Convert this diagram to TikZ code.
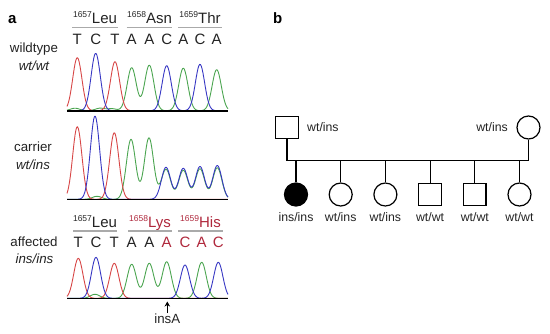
\documentclass[tikz,border=0pt]{standalone}
\usepackage{fontspec}
\setmainfont{Liberation Sans}
\usetikzlibrary{arrows.meta,positioning}
\definecolor{chred}{RGB}{215,70,70}
\definecolor{chblue}{RGB}{55,55,195}
\definecolor{chgreen}{RGB}{75,165,80}
\definecolor{mutred}{RGB}{175,40,60}
\definecolor{rulegray}{RGB}{170,170,170}
\definecolor{ink}{RGB}{35,35,35}
\newcommand{\codon}[2]{\raisebox{5.5pt}{\fontsize{8.5}{8.5}\selectfont #1}#2}
\tikzset{
  nuc/.style={
    anchor = base,
    inner sep = 0,
    font = \fontsize{15}{15}\selectfont,
    text = ink
  },
  codon/.style={
    anchor = base,
    inner sep = 0,
    font = \fontsize{15}{15}\selectfont,
    text = ink
  },
  side/.style={
    anchor = base,
    inner sep = 0,
    font = \fontsize{13.3}{15}\selectfont,
    text = ink
  },
  panel/.style={
    anchor = base west,
    inner sep = 0,
    font = \bfseries\fontsize{15}{15}\selectfont
  },
}
\tikzset{
  trace/.style={
    line width = 0.9pt,
    line join = round
  },
  zeroline/.style={
    line width = 1.6pt
  },
  codonrule/.style={
    rulegray,
    line width = 1.5pt
  },
  declare function={pk(\t,\c,\h)=\h*exp(max(0-((\t-\c)/6.5)^2,-12));}
}
\tikzset{
  male/.style={
    draw,
    shape = rectangle,
    minimum size = 22.5pt,
    inner sep = 0,
    line width = 1.2pt
  },
  female/.style={
    draw,
    shape = circle,
    minimum size = 23pt,
    inner sep = 0,
    line width = 1.2pt
  },
  afemale/.style={
    female,
    fill = black
  },
  pline/.style={
    line width = 1.2pt
  },
  plabel/.style={
    anchor = base,
    inner sep = 0,
    font = \fontsize{12.3}{14}\selectfont,
    text = ink
  },
}

\begin{document}
\begin{tikzpicture}[x=1pt,y=-1pt]
\useasboundingbox (0,0) rectangle (550,333);
\node[panel] (la) at (8,23) {a};
\node[panel] (lb) at (273,23) {b};

% wildtype
\node[codon] (w1) at (95,23) {\codon{1657}{Leu}};
\node[codon] (w2) at (149.5,23) {\codon{1658}{Asn}};
\node[codon] (w3) at (200,23) {\codon{1659}{Thr}};
\draw[codonrule] (72.3,27.3) -- (117.7,27.3);
\draw[codonrule] (126.7,27.3) -- (171.7,27.3);
\draw[codonrule] (178.3,27.3) -- (221.7,27.3);
\foreach \b/\x [count=\i] in {T/77.3,C/95.7,T/115,A/131.7,A/149.3,C/166.7,A/183.3,C/200,A/216.7}{
  \node[nuc] (wb\i) at (\x,44) {\b}; }
\node[side] (wt1) at (34,52) {wildtype};
\node[side] (wt2) at (34,70) {\itshape wt/wt};
\draw[trace,chgreen] plot[domain=67:228,samples=200] (\x,{110.7-pk(\x,131.7,43)-pk(\x,149.3,45.5)-pk(\x,183.3,42.5)-pk(\x,216.7,41)-pk(\x,75,2.5)-pk(\x,100,2.5)-pk(\x,112,2)});
\draw[trace,chred] plot[domain=67:228,samples=200] (\x,{110.7-pk(\x,77.3,53)-pk(\x,115,49)});
\draw[trace,chblue] plot[domain=67:228,samples=200] (\x,{110.7-pk(\x,95.7,57.4)-pk(\x,166.7,45)-pk(\x,200,46.4)});
\draw[zeroline] (67,110.7) -- (228,110.7);

% carrier
\node[side] (ca1) at (33,151.7) {carrier};
\node[side] (ca2) at (33,169) {\itshape wt/ins};
\draw[trace,chgreen] plot[domain=67:228,samples=200] (\x,{199.3-pk(\x,131,60)-pk(\x,149,61.5)-pk(\x,166,30)-pk(\x,183.3,29)-pk(\x,200,30.5)-pk(\x,217.3,31.5)-pk(\x,97,3)});
\draw[trace,chred] plot[domain=67:228,samples=200] (\x,{199.3-pk(\x,77.3,72.6)-pk(\x,114.3,66.6)});
\draw[trace,chblue] plot[domain=67:228,samples=200] (\x,{199.3-pk(\x,95,83.3)-pk(\x,166,32)-pk(\x,183.3,31)-pk(\x,200,32.8)-pk(\x,217.3,33.8)});
\draw[zeroline] (67,199.3) -- (228,199.3);

% affected
\node[codon] (m1) at (95,227) {\codon{1657}{Leu}};
\node[codon,text=mutred] (m2) at (150,227) {\codon{1658}{Lys}};
\node[codon,text=mutred] (m3) at (200.5,227) {\codon{1659}{His}};
\draw[codonrule] (73,231) -- (117,231);
\draw[codonrule] (128,231) -- (172,231);
\draw[codonrule] (178,231) -- (223,231);
\foreach \b/\x/\c [count=\i] in {T/78.3/ink,C/96/ink,T/114.3/ink,A/131.7/ink,A/149.3/ink,A/166.7/mutred,C/185/mutred,A/201.7/mutred,C/218.3/mutred}{
  \node[nuc,text=\c] (mb\i) at (\x,247.7) {\b}; }
\node[side] (af1) at (34,246.7) {affected};
\node[side] (af2) at (34.5,263) {\itshape ins/ins};
\draw[trace,chgreen] plot[domain=67:228,samples=200] (\x,{298.3-pk(\x,131.7,34)-pk(\x,149.3,35)-pk(\x,166.7,36.5)-pk(\x,201.7,36)-pk(\x,95,4)});
\draw[trace,chred] plot[domain=67:228,samples=200] (\x,{298.3-pk(\x,78.3,40)-pk(\x,114.3,35)});
\draw[trace,chblue] plot[domain=67:228,samples=200] (\x,{298.3-pk(\x,96,41)-pk(\x,185,33.3)-pk(\x,218.3,36)});
\draw[zeroline] (67,298.3) -- (228,298.3);
\coordinate (tip) at (167.3,301.5);
\node[side] (insA) at (167.3,323) {insA};
\draw[line width=1.4pt,-{Stealth[length=5pt,width=5.5pt]}] (insA.north) -- (tip);

% pedigree
\node[male] (fa) at (287,127.5) {};
\node[female] (mo) at (528.5,127.5) {};
\node[plabel,anchor=base west] (fal) at (307,131.5) {wt/ins};
\node[plabel,anchor=base east] (mol) at (508,131.5) {wt/ins};
\coordinate (sl) at (287,160.7);
\coordinate (sr) at (528.5,160.7);
\draw[pline] (fa.south) -- (sl) -- (sr) -- (mo.south);
\foreach \s/\g [count=\i from 0] in {afemale/{ins/ins},female/{wt/ins},female/{wt/ins},male/{wt/wt},male/{wt/wt},female/{wt/wt}}{
  \node[\s] (c\i) at ({296+44.7*\i},194.5) {};
  \draw[pline] (c\i.north) -- (c\i.north |- sl);
  \node[plabel] (g\i) at ({296+44.7*\i},221.5) {\g}; }
\end{tikzpicture}
\end{document}
